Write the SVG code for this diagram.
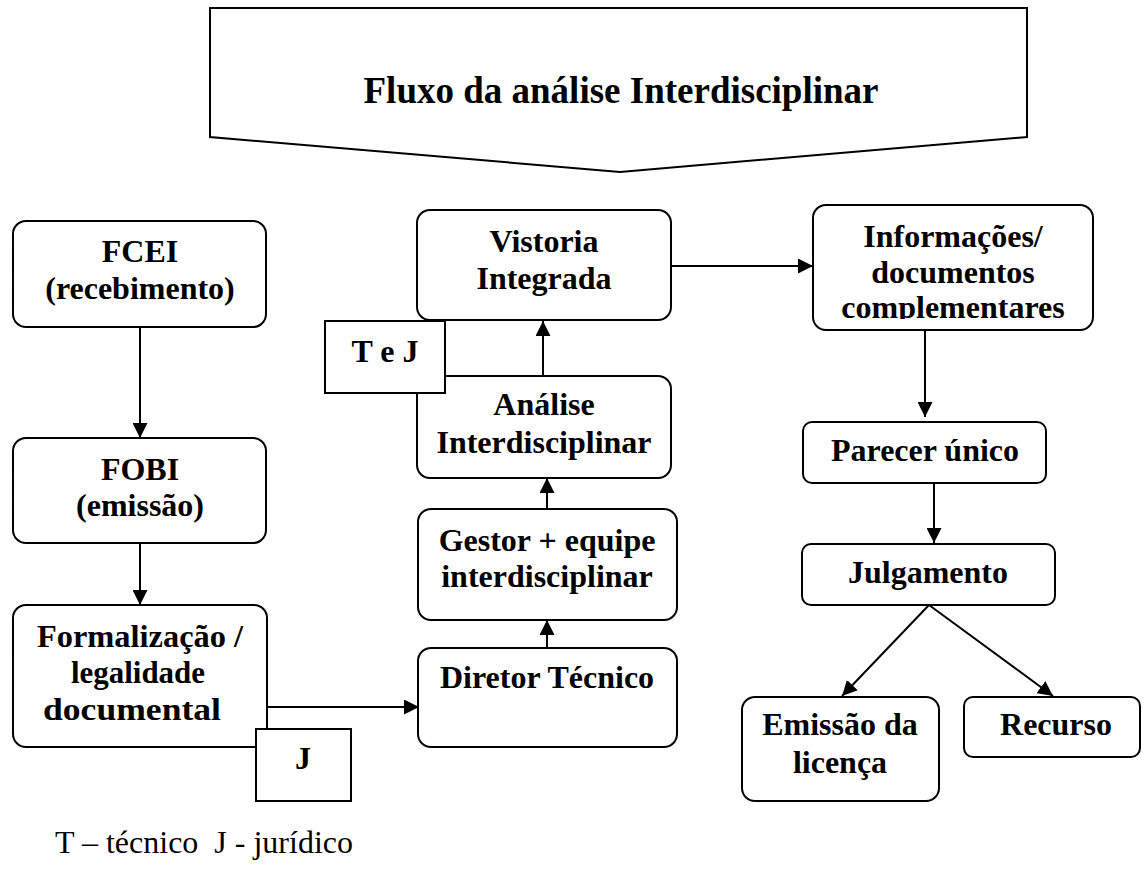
<svg xmlns="http://www.w3.org/2000/svg" width="1143" height="873" viewBox="0 0 1143 873">
<style>
.box{fill:#fff;stroke:#000;stroke-width:2}
.t{font-family:"Liberation Serif","Times New Roman",serif;font-weight:bold;font-size:32px;text-anchor:middle;fill:#000}
.title{font-family:"Liberation Serif","Times New Roman",serif;font-weight:bold;font-size:37px;text-anchor:middle;fill:#000}
.leg{font-family:"Liberation Serif","Times New Roman",serif;font-size:32px;fill:#000}
.c{stroke:#000;stroke-width:2;fill:none}
</style>
<defs>
<marker id="arr" viewBox="0 0 15 15" refX="15" refY="7.5" markerWidth="15" markerHeight="15" markerUnits="userSpaceOnUse" orient="auto">
<path d="M0,0 L15,7.5 L0,15 Z" fill="#000"/>
</marker>
<clipPath id="clipInfo"><rect x="813" y="205" width="280" height="114"/></clipPath>
</defs>
<g id="title">
<path class="box" d="M210,8 L1027,8 L1027,137 L620,172 L210,137 Z"/>
<text class="title" x="621" y="103">Fluxo da análise Interdisciplinar</text>
</g>
<g id="connectors">
<line class="c" x1="140" y1="327" x2="140" y2="438" marker-end="url(#arr)"/>
<line class="c" x1="140" y1="543" x2="140" y2="605" marker-end="url(#arr)"/>
<line class="c" x1="267" y1="707" x2="419" y2="707" marker-end="url(#arr)"/>
<line class="c" x1="547" y1="648" x2="547" y2="620" marker-end="url(#arr)"/>
<line class="c" x1="547" y1="509" x2="547" y2="478" marker-end="url(#arr)"/>
<line class="c" x1="543" y1="376" x2="543" y2="321" marker-end="url(#arr)"/>
<line class="c" x1="671" y1="266" x2="813" y2="266" marker-end="url(#arr)"/>
<line class="c" x1="925" y1="330" x2="925" y2="417" marker-end="url(#arr)"/>
<line class="c" x1="934" y1="483" x2="934" y2="543" marker-end="url(#arr)"/>
<line class="c" x1="929" y1="605" x2="842" y2="696" marker-end="url(#arr)"/>
<line class="c" x1="929" y1="605" x2="1053" y2="696" marker-end="url(#arr)"/>
</g>
<g id="fcei">
<rect class="box" x="13" y="221" width="253" height="106" rx="13"/>
<text class="t" x="140" y="262">FCEI</text>
<text class="t" x="140" y="299">(recebimento)</text>
</g>
<g id="fobi">
<rect class="box" x="13" y="438" width="253" height="105" rx="13"/>
<text class="t" x="140" y="480">FOBI</text>
<text class="t" x="140" y="516">(emissão)</text>
</g>
<g id="formalizacao">
<rect class="box" x="13" y="605" width="254" height="142" rx="13"/>
<text class="t" x="140" y="647" textLength="206" lengthAdjust="spacingAndGlyphs">Formalização /</text>
<text class="t" x="138" y="683" textLength="134" lengthAdjust="spacingAndGlyphs">legalidade</text>
<text class="t" x="132" y="720" textLength="178" lengthAdjust="spacingAndGlyphs">documental</text>
</g>
<g id="j">
<rect class="box" x="256" y="729" width="95" height="72"/>
<text class="t" x="303" y="769">J</text>
</g>
<g id="diretor">
<rect class="box" x="418" y="648" width="259" height="99" rx="13"/>
<text class="t" x="547" y="688">Diretor Técnico</text>
</g>
<g id="gestor">
<rect class="box" x="418" y="509" width="259" height="111" rx="13"/>
<text class="t" x="547" y="551">Gestor + equipe</text>
<text class="t" x="547" y="587">interdisciplinar</text>
</g>
<g id="analise">
<rect class="box" x="417" y="376" width="254" height="102" rx="13"/>
<text class="t" x="544" y="415">Análise</text>
<text class="t" x="544" y="453">Interdisciplinar</text>
</g>
<g id="vistoria">
<rect class="box" x="417" y="210" width="254" height="110" rx="13"/>
<text class="t" x="544" y="252">Vistoria</text>
<text class="t" x="544" y="289">Integrada</text>
</g>
<g id="tej">
<rect class="box" x="325" y="321" width="120" height="72"/>
<text class="t" x="385" y="362">T e J</text>
</g>
<g id="informacoes">
<rect class="box" x="813" y="205" width="280" height="125" rx="13"/>
<g clip-path="url(#clipInfo)">
<text class="t" x="953" y="247">Informações/</text>
<text class="t" x="953" y="283">documentos</text>
<text class="t" x="953" y="318">complementares</text>
</g>
</g>
<g id="parecer">
<rect class="box" x="803" y="422" width="243" height="61" rx="9"/>
<text class="t" x="925" y="461">Parecer único</text>
</g>
<g id="julgamento">
<rect class="box" x="802" y="544" width="253" height="61" rx="9"/>
<text class="t" x="928" y="583">Julgamento</text>
</g>
<g id="emissao">
<rect class="box" x="742" y="697" width="197" height="104" rx="13"/>
<text class="t" x="840" y="735">Emissão da</text>
<text class="t" x="840" y="773">licença</text>
</g>
<g id="recurso">
<rect class="box" x="964" y="697" width="176" height="60" rx="9"/>
<text class="t" x="1056" y="735">Recurso</text>
</g>
<g id="legend">
<text class="leg" x="55" y="853" xml:space="preserve">T – técnico  J - jurídico</text>
</g>
</svg>
